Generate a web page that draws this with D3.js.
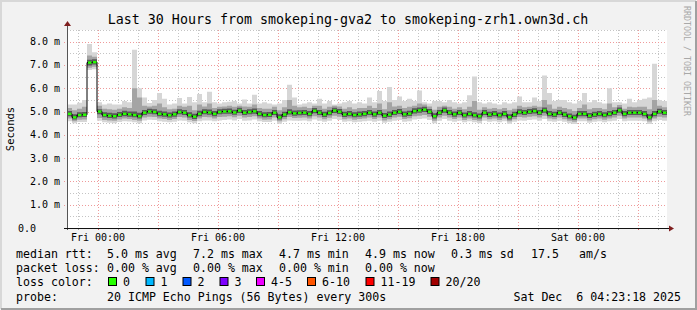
<!DOCTYPE html>
<html>
<head>
<meta charset="utf-8">
<script src="https://cdn.jsdelivr.net/npm/d3@7"></script>
<style>
  body { margin: 0; background: #f0f0f0; }
  text { font-family: "DejaVu Sans Mono", monospace; white-space: pre; }
</style>
</head>
<body>
<svg id="chart"></svg>
<script>
// ---- data (values in ms, one value per 15 min step) ----
const startTime = new Date(2025, 11, 4, 22, 27);
const endTime = new Date(2025, 11, 6, 4, 27);
const stepMinutes = 15;

const median = [
  4.90,4.75,4.85,4.86,7.10,7.12,5.00,4.85,4.82,4.80,4.86,4.90,4.88,4.85,4.80,4.95,5.00,4.98,4.90,4.88,
  4.84,4.88,4.98,4.95,4.84,4.78,4.90,4.98,4.96,4.90,4.98,5.00,5.01,4.96,5.04,4.95,4.98,5.01,4.90,4.85,
  4.86,4.95,4.75,4.87,4.97,4.92,4.94,4.95,4.90,5.03,4.95,4.87,4.94,5.04,4.99,4.87,4.90,4.85,4.88,4.90,
  4.95,4.88,4.95,4.82,4.87,4.95,4.99,4.88,4.91,5.02,5.05,5.08,4.99,4.80,4.95,5.05,4.95,4.88,4.95,4.84,
  4.90,4.84,4.80,4.95,4.87,4.90,4.84,4.90,4.76,4.87,4.98,4.95,4.99,5.02,4.95,5.05,4.90,4.87,4.95,4.87,
  4.80,4.74,4.90,4.90,4.82,4.87,4.90,4.85,4.90,4.95,5.05,4.90,4.95,4.95,4.95,4.90,4.75,4.90,5.00,4.95
];
const pingMax = [
  5.30,5.30,5.38,5.50,7.90,7.55,5.40,5.30,5.35,5.30,5.30,5.45,5.40,7.65,6.00,5.60,5.37,5.50,5.80,5.55,
  5.30,5.35,5.58,5.35,5.62,5.40,5.75,5.40,5.85,5.40,5.35,5.40,5.42,5.45,5.35,5.52,5.35,5.72,5.35,5.40,
  5.35,5.30,5.35,5.50,6.15,5.60,5.30,5.35,5.40,5.35,5.55,5.35,5.45,5.30,5.35,5.40,5.45,5.35,5.40,5.35,
  5.60,5.40,5.88,5.45,6.05,5.50,5.65,5.45,5.55,5.45,5.90,5.40,5.35,5.45,5.45,5.40,5.50,5.40,5.35,5.40,
  5.70,6.50,5.40,5.35,5.40,5.35,5.30,5.40,5.35,5.40,5.65,5.40,5.40,5.60,5.45,6.55,5.80,5.45,5.50,5.50,
  5.40,5.35,5.45,5.80,5.40,5.50,5.40,5.35,6.00,5.40,5.40,5.35,5.55,5.40,5.50,5.55,5.60,7.05,5.50,5.45
];
const ping90 = [
  5.15,5.05,5.12,5.20,7.40,7.35,5.25,5.12,5.10,5.08,5.12,5.18,5.15,6.00,5.60,5.25,5.22,5.25,5.35,5.18,
  5.10,5.12,5.25,5.20,5.25,5.05,5.30,5.22,5.35,5.15,5.20,5.22,5.25,5.20,5.25,5.22,5.20,5.30,5.15,5.12,
  5.12,5.20,5.05,5.18,5.50,5.25,5.18,5.20,5.15,5.25,5.25,5.12,5.20,5.25,5.22,5.12,5.18,5.10,5.15,5.15,
  5.25,5.15,5.35,5.10,5.40,5.22,5.25,5.15,5.20,5.25,5.35,5.30,5.22,5.08,5.20,5.25,5.20,5.12,5.18,5.10,
  5.20,5.45,5.08,5.18,5.12,5.15,5.10,5.15,5.05,5.12,5.25,5.18,5.20,5.25,5.20,5.50,5.30,5.12,5.20,5.15,
  5.10,5.02,5.15,5.30,5.10,5.15,5.15,5.10,5.35,5.18,5.28,5.12,5.20,5.18,5.20,5.20,5.10,5.50,5.25,5.18
];
const ping75 = [
  5.02,4.88,4.97,4.98,7.22,7.24,5.10,4.97,4.95,4.93,4.98,5.03,5.00,5.00,4.95,5.07,5.12,5.10,5.03,5.00,
  4.96,5.00,5.10,5.07,4.97,4.90,5.03,5.10,5.09,5.02,5.10,5.12,5.13,5.08,5.16,5.07,5.10,5.13,5.02,4.97,
  4.98,5.07,4.88,4.99,5.10,5.04,5.06,5.07,5.02,5.15,5.07,4.99,5.06,5.16,5.11,4.99,5.02,4.97,5.00,5.02,
  5.07,5.00,5.07,4.94,5.00,5.07,5.11,5.00,5.03,5.14,5.17,5.20,5.11,4.93,5.07,5.17,5.07,5.00,5.07,4.96,
  5.02,4.97,4.92,5.07,4.99,5.02,4.96,5.02,4.88,4.99,5.10,5.07,5.11,5.14,5.07,5.17,5.02,4.99,5.07,4.99,
  4.92,4.86,5.02,5.02,4.94,4.99,5.02,4.97,5.02,5.07,5.17,5.02,5.07,5.07,5.07,5.02,4.88,5.02,5.12,5.07
];
const ping25 = [
  4.80,4.66,4.75,4.76,6.98,7.02,4.88,4.75,4.72,4.70,4.76,4.80,4.78,4.75,4.70,4.85,4.90,4.88,4.80,4.78,
  4.74,4.78,4.88,4.85,4.74,4.68,4.80,4.88,4.86,4.80,4.88,4.90,4.91,4.86,4.94,4.85,4.88,4.91,4.80,4.75,
  4.76,4.85,4.66,4.77,4.87,4.82,4.84,4.85,4.80,4.93,4.85,4.77,4.84,4.94,4.89,4.77,4.80,4.75,4.78,4.80,
  4.85,4.78,4.85,4.72,4.77,4.85,4.89,4.78,4.81,4.92,4.95,4.98,4.89,4.70,4.85,4.95,4.85,4.78,4.85,4.74,
  4.80,4.74,4.70,4.85,4.77,4.80,4.74,4.80,4.66,4.77,4.88,4.85,4.89,4.92,4.85,4.95,4.80,4.77,4.85,4.77,
  4.70,4.65,4.80,4.80,4.72,4.77,4.80,4.75,4.80,4.85,4.95,4.80,4.85,4.85,4.85,4.80,4.66,4.80,4.90,4.85
];
const ping10 = [
  4.70,4.58,4.65,4.66,6.88,6.92,4.72,4.64,4.62,4.60,4.66,4.70,4.68,4.64,4.60,4.74,4.78,4.76,4.70,4.68,
  4.64,4.68,4.76,4.74,4.64,4.59,4.70,4.76,4.75,4.70,4.76,4.78,4.80,4.75,4.82,4.74,4.76,4.80,4.70,4.65,
  4.66,4.74,4.58,4.67,4.76,4.72,4.73,4.74,4.70,4.80,4.74,4.67,4.73,4.82,4.78,4.67,4.70,4.65,4.68,4.70,
  4.74,4.68,4.74,4.62,4.67,4.74,4.78,4.68,4.71,4.80,4.82,4.85,4.78,4.60,4.74,4.82,4.74,4.68,4.74,4.64,
  4.70,4.64,4.60,4.74,4.67,4.70,4.64,4.70,4.58,4.67,4.76,4.74,4.78,4.80,4.74,4.82,4.70,4.67,4.74,4.67,
  4.60,4.56,4.70,4.70,4.62,4.67,4.70,4.65,4.70,4.74,4.82,4.70,4.74,4.74,4.74,4.70,4.57,4.70,4.78,4.74
];
const pingMin = [
  4.58,4.50,4.55,4.55,6.78,6.82,4.60,4.54,4.52,4.50,4.55,4.58,4.57,4.54,4.50,4.62,4.65,4.64,4.58,4.56,
  4.54,4.56,4.62,4.60,4.54,4.50,4.58,4.62,4.62,4.58,4.62,4.64,4.66,4.62,4.68,4.60,4.62,4.66,4.58,4.55,
  4.55,4.60,4.48,4.56,4.62,4.60,4.60,4.62,4.58,4.66,4.60,4.56,4.60,4.68,4.64,4.56,4.58,4.54,4.56,4.58,
  4.60,4.56,4.60,4.52,4.56,4.60,4.64,4.56,4.58,4.66,4.68,4.70,4.64,4.50,4.60,4.68,4.60,4.56,4.60,4.54,
  4.58,4.54,4.50,4.60,4.56,4.58,4.54,4.58,4.48,4.56,4.62,4.60,4.64,4.66,4.60,4.68,4.58,4.56,4.60,4.56,
  4.50,4.47,4.58,4.58,4.52,4.56,4.58,4.54,4.58,4.60,4.68,4.58,4.60,4.60,4.60,4.58,4.47,4.58,4.64,4.60
];

const yTicks = [0, 1, 2, 3, 4, 5, 6, 7, 8];
const yTickLabels = ["0.0", "1.0 m", "2.0 m", "3.0 m", "4.0 m", "5.0 m", "6.0 m", "7.0 m", "8.0 m"];

const title = "Last 30 Hours from smokeping-gva2 to smokeping-zrh1.own3d.ch";
const rttLegend = ["5.0 ms avg", "7.2 ms max", "4.7 ms min", "4.9 ms now", "0.3 ms sd"];
const lossLegend = ["0.00 % avg", "0.00 % max", "0.00 % min", "0.00 % now"];
const lossNames = ["0", "1", "2", "3", "4-5", "6-10", "11-19", "20/20"];
const lossColors = ["#26ff00", "#00b8ff", "#0059ff", "#7e00ff", "#ee00ff", "#ff5500", "#ff0000", "#a10000"];

// ---- layout ----
const W = 697, H = 310;
const P = { left: 67, right: 667, top: 30, bottom: 228 };
const FONT_AXIS = 10, FONT_LEGEND = 11.6;

const svg = d3.select("#chart").attr("width", W).attr("height", H);

// frame with rrdtool style shading
svg.append("rect").attr("width", W).attr("height", H).attr("fill", "#f2f2f2");
svg.append("path").attr("d", `M1,${H - 1}V1H${W - 1}`).attr("fill", "none").attr("stroke", "#d8d8d8").attr("stroke-width", 2);
svg.append("path").attr("d", `M1,${H - 1}H${W - 1}V1`).attr("fill", "none").attr("stroke", "#a0a0a0").attr("stroke-width", 2);

svg.append("rect")
  .attr("x", P.left).attr("y", P.top)
  .attr("width", P.right - P.left).attr("height", P.bottom - P.top)
  .attr("fill", "#fff");

const x = d3.scaleTime().domain([startTime, endTime]).range([P.left, P.right]);
const y = d3.scaleLinear().domain([0, 8.5]).range([P.bottom, P.top]);

// one record per step, plus a closing record so the last step gets its width
const rows = median.map((m, i) => ({
  t: d3.timeMinute.offset(startTime, i * stepMinutes),
  t1: d3.timeMinute.offset(startTime, (i + 1) * stepMinutes),
  median: m, max: pingMax[i], p90: ping90[i], p75: ping75[i], p25: ping25[i], p10: ping10[i], min: pingMin[i]
}));
const stepRows = rows.concat([Object.assign({}, rows[rows.length - 1], { t: rows[rows.length - 1].t1 })]);

// ---- grid ----
const grid = svg.append("g");
const minorHours = x.ticks(d3.timeHour.every(1));
const majorHours = x.ticks(d3.timeHour.every(3));
const isMajor = t => t.getHours() % 3 === 0;

grid.selectAll(".vminor").data(minorHours.filter(t => !isMajor(t))).join("line")
  .attr("x1", d => Math.round(x(d)) + 0.5).attr("x2", d => Math.round(x(d)) + 0.5)
  .attr("y1", P.top).attr("y2", P.bottom)
  .attr("stroke", "#c4c4c4").attr("stroke-dasharray", "1,2");
const yMinor = d3.range(1, 18).map(v => v / 2).filter(v => v % 1 !== 0);
grid.selectAll(".hminor").data(yMinor.concat([8.5])).join("line")
  .attr("x1", P.left).attr("x2", P.right)
  .attr("y1", d => Math.round(y(d)) + 0.5).attr("y2", d => Math.round(y(d)) + 0.5)
  .attr("stroke", "#c4c4c4").attr("stroke-dasharray", "1,2");
grid.selectAll(".vmajor").data(majorHours).join("line")
  .attr("x1", d => Math.round(x(d)) + 0.5).attr("x2", d => Math.round(x(d)) + 0.5)
  .attr("y1", P.top).attr("y2", P.bottom + 3)
  .attr("stroke", "#ef9a9a").attr("stroke-dasharray", "1,2");
grid.selectAll(".hmajor").data(yTicks.slice(1)).join("line")
  .attr("x1", P.left - 3).attr("x2", P.right)
  .attr("y1", d => Math.round(y(d)) + 0.5).attr("y2", d => Math.round(y(d)) + 0.5)
  .attr("stroke", "#ef9a9a").attr("stroke-dasharray", "1,2");

// ---- smoke (ping distribution), darker towards the median ----
const band = (lo, hi) => d3.area().curve(d3.curveStepAfter)
  .x(d => x(d.t)).y0(d => y(d[lo])).y1(d => y(d[hi]));
const smoke = svg.append("g");
[["min", "max", "#d6d6d6"], ["p10", "p90", "#a4a4a4"], ["p25", "p75", "#585858"]].forEach(([lo, hi, c]) => {
  smoke.append("path").datum(stepRows).attr("d", band(lo, hi)).attr("fill", c);
});

// median: black steps with green (0 % loss) level segments
svg.append("path").datum(stepRows)
  .attr("d", d3.line().curve(d3.curveStepAfter).x(d => x(d.t)).y(d => y(d.median)))
  .attr("fill", "none").attr("stroke", "#000").attr("stroke-width", 1);
svg.append("g").selectAll("line").data(rows).join("line")
  .attr("x1", d => x(d.t) + 1).attr("x2", d => x(d.t1) - 0.5)
  .attr("y1", d => y(d.median)).attr("y2", d => y(d.median))
  .attr("stroke", lossColors[0]).attr("stroke-width", 2.4);

// ---- axes ----
const axes = svg.append("g");
axes.selectAll(".xt").data(minorHours).join("line")
  .attr("x1", d => Math.round(x(d)) + 0.5).attr("x2", d => Math.round(x(d)) + 0.5)
  .attr("y1", P.bottom).attr("y2", P.bottom + 2)
  .attr("stroke", d => isMajor(d) ? "#e06060" : "#999");
axes.append("line").attr("x1", P.left + 0.5).attr("x2", P.left + 0.5)
  .attr("y1", P.bottom + 2).attr("y2", P.top - 5).attr("stroke", "#555");
axes.append("line").attr("x1", P.left - 3).attr("x2", P.right + 3)
  .attr("y1", P.bottom + 0.5).attr("y2", P.bottom + 0.5).attr("stroke", "#111");
axes.append("path").attr("d", `M${P.right + 2},${P.bottom - 2.5}L${P.right + 7},${P.bottom + 0.5}L${P.right + 2},${P.bottom + 3.5}Z`).attr("fill", "#7f1f1f");
axes.append("path").attr("d", `M${P.left - 3},${P.top - 4}L${P.left + 0.5},${P.top - 9}L${P.left + 4},${P.top - 4}Z`).attr("fill", "#7f1f1f");

axes.selectAll(".yl").data(yTicks).join("text")
  .attr("x", d => d === 0 ? 36 : 60).attr("y", d => y(d) + 3.5)
  .attr("text-anchor", "end").attr("font-size", FONT_AXIS)
  .text((d, i) => yTickLabels[i]);
axes.selectAll(".xl").data(x.ticks(d3.timeHour.every(6))).join("text")
  .attr("x", d => x(d)).attr("y", P.bottom + 13)
  .attr("text-anchor", "middle").attr("font-size", FONT_AXIS)
  .text(d3.timeFormat("%a %H:%M"));

// ---- titles ----
svg.append("text").attr("x", 348).attr("y", 24).attr("text-anchor", "middle")
  .attr("font-size", 13.3).text(title);
svg.append("text").attr("transform", `translate(14,${(P.top + P.bottom) / 2}) rotate(-90)`)
  .attr("text-anchor", "middle").attr("font-size", 10.5).text("Seconds");
svg.append("text").attr("transform", "translate(684,6) rotate(90)")
  .attr("font-size", 8.3).attr("fill", "#a8a8a8").text("RRDTOOL / TOBI OETIKER");

// ---- legend ----
const legend = svg.append("g").attr("font-size", FONT_LEGEND);
const cols = [107, 193, 279, 365, 451];
legend.append("text").attr("x", 16).attr("y", 258).text("median rtt:");
legend.selectAll(".rtt").data(rttLegend).join("text")
  .attr("x", (d, i) => cols[i]).attr("y", 258).text(d => d);
legend.append("text").attr("x", 531).attr("y", 258).text("17.5");
legend.append("text").attr("x", 579).attr("y", 258).text("am/s");
legend.append("text").attr("x", 16).attr("y", 272).text("packet loss:");
legend.selectAll(".loss").data(lossLegend).join("text")
  .attr("x", (d, i) => cols[i]).attr("y", 272).text(d => d);
legend.append("text").attr("x", 16).attr("y", 286).text("loss color:");
const boxX = [108, 145.5, 182.5, 219.5, 256, 307, 365.5, 430.5];
const keys = legend.selectAll(".key").data(lossNames).join("g")
  .attr("transform", (d, i) => `translate(${boxX[i]},277)`);
keys.append("rect").attr("x", 0.5).attr("y", 0.5).attr("width", 8).attr("height", 8)
  .attr("fill", (d, i) => lossColors[i]).attr("stroke", "#000");
keys.append("text").attr("x", 15).attr("y", 9).text(d => d);
legend.append("text").attr("x", 16).attr("y", 300.5).text("probe:");
legend.append("text").attr("x", 107).attr("y", 300.5).text("20 ICMP Echo Pings (56 Bytes) every 300s");
legend.append("text").attr("x", 681).attr("y", 300.5).attr("text-anchor", "end").text("Sat Dec  6 04:23:18 2025");
</script>
</body>
</html>
